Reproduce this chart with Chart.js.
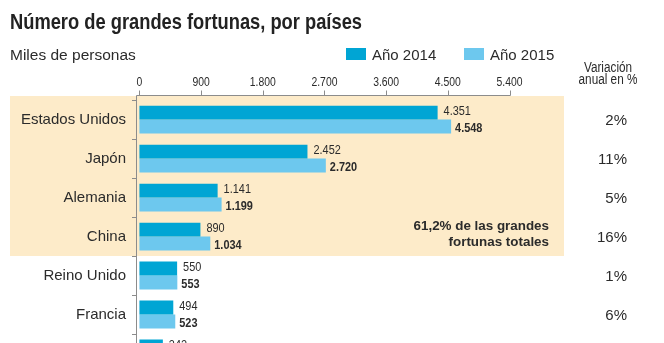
<!DOCTYPE html>
<html>
<head>
<meta charset="utf-8">
<script src="https://cdn.jsdelivr.net/npm/chart.js@4.4.1/dist/chart.umd.min.js"></script>
<style>
  html, body { margin: 0; padding: 0; background: #fff; overflow: hidden; width: 664px; height: 343px; }
  canvas { display: block; }
</style>
</head>
<body>
<canvas id="chart" width="664" height="388"></canvas>
<script>
// Number of high-net-worth individuals, thousands of people
const countries = ['Estados Unidos', 'Japón', 'Alemania', 'China', 'Reino Unido', 'Francia', 'Suiza'];
const year2014 = [4351, 2452, 1141, 890, 550, 494, 342];
const year2015 = [4548, 2720, 1199, 1034, 553, 523, 361];
const changePct = ['2%', '11%', '5%', '16%', '1%', '6%', '6%'];
const xTickValues = [0, 900, 1800, 2700, 3600, 4500, 5400];
const seriesNames = ['Año 2014', 'Año 2015'];
const highlightCount = 4;
const highlightNote = ['61,2% de las grandes', 'fortunas totales'];

const TITLE = 'Número de grandes fortunas, por países';
const UNITS = 'Miles de personas';
const CHANGE_HEAD = ['Variación', 'anual en %'];

const DARK = '#00a5d4';
const LIGHT = '#6dc8ee';
const BEIGE = '#fdebc9';
const TEXT = '#2b2b2b';
const AXIS = '#8c8c8c';
const SANS = "'Liberation Sans', Arial, sans-serif";

// Spanish thousands separator
const fmt = v => String(v).replace(/\B(?=(\d{3})+(?!\d))/g, '.');

// condensed lettering: regular face squeezed horizontally
function condensed(ctx, text, x, y, font, sx, align) {
  ctx.save();
  ctx.font = font;
  ctx.textAlign = align;
  ctx.translate(x, y);
  ctx.scale(sx, 1);
  ctx.fillText(text, 0, 0);
  ctx.restore();
}

const decor = {
  id: 'decor',
  beforeDraw(chart) {
    const { ctx, chartArea, scales: { y } } = chart;
    // shaded block behind the leading countries
    const lineY = Math.round(chartArea.top - 5);
    const bottom = Math.round((y.getPixelForValue(highlightCount - 1) + y.getPixelForValue(highlightCount)) / 2);
    ctx.save();
    ctx.fillStyle = BEIGE;
    ctx.fillRect(10, lineY + 1, 554, bottom - lineY - 1);
    ctx.restore();
  },
  afterDatasetsDraw(chart) {
    const { ctx } = chart;
    ctx.save();
    ctx.textBaseline = 'alphabetic';
    ctx.fillStyle = TEXT;
    chart.data.datasets.forEach((ds, di) => {
      const meta = chart.getDatasetMeta(di);
      meta.data.forEach((bar, i) => {
        if (di === 0) {
          condensed(ctx, fmt(ds.data[i]), bar.x + 6, bar.y + 2, '13px ' + SANS, 0.84, 'left');
        } else {
          condensed(ctx, fmt(ds.data[i]), bar.x + 4, bar.y + 5.5, 'bold 13px ' + SANS, 0.84, 'left');
        }
      });
    });
    ctx.restore();
  },
  afterDraw(chart) {
    const { ctx, chartArea, scales: { x, y } } = chart;
    ctx.save();

    // top axis rule, tick marks and tick labels
    const lineY = Math.round(chartArea.top - 5) + 0.5;
    const axisX = Math.round(chartArea.left) + 0.5;
    ctx.strokeStyle = AXIS;
    ctx.lineWidth = 1;
    ctx.beginPath();
    ctx.moveTo(axisX, lineY);
    ctx.lineTo(Math.round(x.getPixelForValue(xTickValues[xTickValues.length - 1])) + 0.5, lineY);
    ctx.moveTo(axisX, lineY);
    ctx.lineTo(axisX, chartArea.top + 1);
    xTickValues.forEach(v => {
      const px = Math.round(x.getPixelForValue(v)) + 0.5;
      ctx.moveTo(px, lineY);
      ctx.lineTo(px, lineY - 5);
    });
    ctx.stroke();

    ctx.fillStyle = TEXT;
    ctx.textBaseline = 'alphabetic';
    xTickValues.forEach(v => {
      condensed(ctx, fmt(v), x.getPixelForValue(v), lineY - 10, '13px ' + SANS, 0.8, 'center');
    });

    // title, squeezed to its line
    ctx.font = 'bold 22px ' + SANS;
    const tw = ctx.measureText(TITLE).width;
    ctx.fillStyle = '#222';
    condensed(ctx, TITLE, 10, 29, 'bold 22px ' + SANS, 352 / tw, 'left');

    ctx.fillStyle = TEXT;
    ctx.textAlign = 'left';
    ctx.font = '15.5px ' + SANS;
    ctx.fillText(UNITS, 10, 60);

    // legend
    const legendX = [346, 464];
    chart.data.datasets.forEach((ds, i) => {
      ctx.fillStyle = ds.backgroundColor;
      ctx.fillRect(legendX[i], 48, 20, 12);
      ctx.fillStyle = TEXT;
      ctx.font = '15px ' + SANS;
      ctx.textAlign = 'left';
      ctx.fillText(ds.label, legendX[i] + 26, 60);
    });

    // change column
    condensed(ctx, CHANGE_HEAD[0], 608, 72, '14px ' + SANS, 0.84, 'center');
    condensed(ctx, CHANGE_HEAD[1], 608, 84, '14px ' + SANS, 0.84, 'center');

    ctx.textAlign = 'right';
    ctx.textBaseline = 'middle';
    ctx.font = '15px ' + SANS;
    changePct.forEach((t, i) => {
      ctx.fillText(t, 627, y.getPixelForValue(i) + 1);
    });

    // note inside the shaded block
    ctx.font = 'bold 13.4px ' + SANS;
    ctx.fillText(highlightNote[0], 549, 226);
    ctx.fillText(highlightNote[1], 549, 242);

    ctx.restore();
  }
};

new Chart(document.getElementById('chart'), {
  type: 'bar',
  data: {
    labels: countries,
    datasets: [
      { label: seriesNames[0], data: year2014, backgroundColor: DARK, borderWidth: 0,
        categoryPercentage: 0.714, barPercentage: 1 },
      { label: seriesNames[1], data: year2015, backgroundColor: LIGHT, borderWidth: 0,
        categoryPercentage: 0.714, barPercentage: 1 }
    ]
  },
  options: {
    indexAxis: 'y',
    responsive: false,
    animation: false,
    devicePixelRatio: 1,
    layout: { padding: { left: 0, top: 0, right: 154.5, bottom: 0 } },
    plugins: {
      legend: { display: false },
      title: { display: false },
      tooltip: { enabled: false }
    },
    scales: {
      x: {
        position: 'top',
        min: -50,
        max: 5400,
        afterBuildTicks: s => { s.ticks = xTickValues.map(v => ({ value: v })); },
        afterFit: s => { s.height = 100.1; },
        grid: { display: false, drawTicks: false },
        border: { display: false },
        ticks: { display: false }
      },
      y: {
        afterFit: s => { s.width = 136; },
        grid: { display: true, drawOnChartArea: false, drawTicks: true, tickLength: 4, color: AXIS, offset: true },
        border: { display: true, color: AXIS },
        ticks: {
          padding: 6,
          color: TEXT,
          font: { family: SANS, size: 15 }
        }
      }
    }
  },
  plugins: [decor]
});
</script>
</body>
</html>
